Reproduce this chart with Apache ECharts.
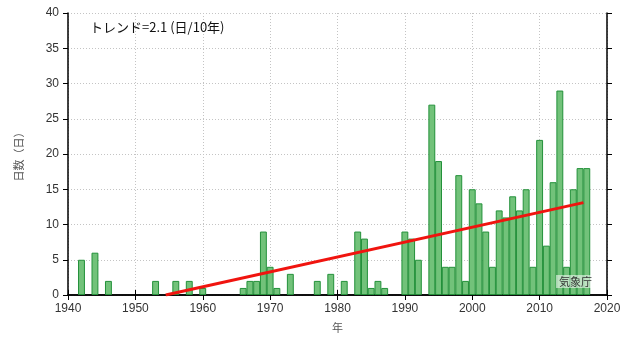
<!DOCTYPE html>
<html><head><meta charset="utf-8">
<script src="https://cdn.jsdelivr.net/npm/echarts@6/dist/echarts.min.js"></script>
<style>html,body{margin:0;padding:0;background:#fff}#c{width:633px;height:338px}</style>
</head><body><div id="c"></div>
<script>
const years = [1941,1942,1943,1944,1945,1946,1947,1948,1949,1950,1951,1952,1953,1954,1955,1956,1957,1958,1959,1960,1961,1962,1963,1964,1965,1966,1967,1968,1969,1970,1971,1972,1973,1974,1975,1976,1977,1978,1979,1980,1981,1982,1983,1984,1985,1986,1987,1988,1989,1990,1991,1992,1993,1994,1995,1996,1997,1998,1999,2000,2001,2002,2003,2004,2005,2006,2007,2008,2009,2010,2011,2012,2013,2014,2015,2016,2017];
const days = [0,5,0,6,0,2,0,0,0,0,0,0,2,0,0,2,0,2,0,1,0,0,0,0,0,1,2,2,9,4,1,0,3,0,0,0,2,0,3,0,2,0,9,8,1,2,1,0,0,9,8,5,0,27,19,4,4,17,2,15,13,9,4,12,11,14,12,15,4,22,7,16,29,4,15,18,18];
const trendX = [1954.5, 2016.5];
const trendY = [0, 13.1];
const xTicks = [1940,1950,1960,1970,1980,1990,2000,2010,2020];
const yTicks = [0,5,10,15,20,25,30,35,40];
const titleText = 'トレンド=2.1 (日/10年)';
const sourceText = '気象庁';

const chart = echarts.init(document.getElementById('c'), null, {renderer:'canvas'});
const barData = years.map((y,i)=> days[i] > 0 ? [y, days[i]] : null).filter(d=>d);
const trendData = trendX.map((x,i)=>[x, trendY[i]]);
const axisLine = {show:true, lineStyle:{color:'#000', width:1.5}};
const tick = {show:true, inside:false, length:5, lineStyle:{color:'#000', width:1}};
const split = {show:true, lineStyle:{color:'#c4c4c4', type:[1,2], width:1}};
const lblFont = {fontFamily:'Liberation Sans, Arial, sans-serif', fontSize:12, color:'#333'};
chart.setOption({
  animation:false,
  textStyle:{fontFamily:'Liberation Sans, sans-serif'},
  title:[
    {text:titleText, left:85, top:16, textStyle:{fontFamily:'Noto Sans CJK JP', fontSize:13, fontWeight:'normal', color:'#111'}},
    {text:sourceText, left:556, top:275, padding:[1,3], backgroundColor:'rgba(255,255,255,0.55)', textStyle:{fontFamily:'Noto Sans CJK JP', fontSize:11, fontWeight:'normal', color:'#333'}}
  ],
  grid:{left:68, right:26, top:13, bottom:40},
  xAxis:[
    {type:'value', min:xTicks[0], max:xTicks[xTicks.length-1], interval:10, position:'bottom',
     name:'年', nameLocation:'middle', nameGap:27, nameTextStyle:{fontFamily:'Noto Sans CJK JP', fontSize:11, color:'#555'},
     axisLine:axisLine, axisTick:tick, splitLine:split,
     axisLabel:Object.assign({margin:8, formatter:v=>String(v)}, lblFont)},
    {type:'value', min:xTicks[0], max:xTicks[xTicks.length-1], interval:10, position:'top',
     axisLine:axisLine, axisTick:tick, splitLine:{show:false}, axisLabel:{show:false}}
  ],
  yAxis:[
    {type:'value', min:yTicks[0], max:yTicks[yTicks.length-1], interval:5, position:'left',
     name:'日数（日）', nameLocation:'middle', nameGap:44, nameTextStyle:{fontFamily:'Noto Sans CJK JP', fontSize:11, color:'#555'},
     axisLine:axisLine, axisTick:tick, splitLine:split,
     axisLabel:Object.assign({margin:9}, lblFont)},
    {type:'value', min:yTicks[0], max:yTicks[yTicks.length-1], interval:5, position:'right',
     axisLine:axisLine, axisTick:tick, splitLine:{show:false}, axisLabel:{show:false}}
  ],
  series:[
    {type:'bar', data:barData, barWidth:6.9, xAxisIndex:0, yAxisIndex:0,
     itemStyle:{color:'#72c27a', borderColor:'#23913a', borderWidth:1}},
    {type:'line', data:trendData, xAxisIndex:0, yAxisIndex:0, symbol:'none', z:5,
     lineStyle:{color:'#f0140f', width:3}}
  ]
});
</script></body></html>
